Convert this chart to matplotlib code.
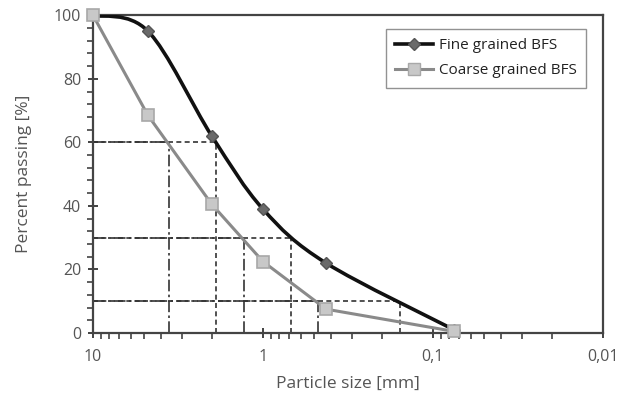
import numpy as np
import matplotlib
matplotlib.use("Agg")
import matplotlib.pyplot as plt
from matplotlib.path import Path
from matplotlib.patches import PathPatch
from matplotlib.lines import Line2D
from matplotlib.ticker import FixedLocator, NullFormatter, MultipleLocator

plt.rcParams['font.family'] = ['Open Sans', 'DejaVu Sans']

# sieve sizes [mm] and passing [%]
sizes = [10, 4.75, 2, 1, 0.425, 0.075]
fine_pass = [100, 95, 62, 39, 22, 1]
coarse_pass = [100, 68.5, 40.5, 22.5, 7.5, 0.5]

# characteristic diameters D60, D30, D10 [mm]
levels = [60, 30, 10]
fine_d = [1.9, 0.68, 0.157]
coarse_d = [3.57, 1.29, 0.472]

xticks = [10, 1, 0.1, 0.01]
xticklabels = ["10", "1", "0,1", "0,01"]

txt = "#555555"
dark = "#333333"


def smooth_path(xs, ys):
    # Catmull-Rom style bezier in (log x, y), back to data coords
    lx = np.log10(xs)
    p = np.column_stack([lx, ys])
    n = len(p)
    verts = [p[0]]
    codes = [Path.MOVETO]
    for i in range(n - 1):
        p0 = p[i - 1] if i > 0 else p[i]
        p1 = p[i]
        p2 = p[i + 1]
        p3 = p[i + 2] if i + 2 < n else p[i + 1]
        c1 = p1 + (p2 - p0) / 6.0
        c2 = p2 - (p3 - p1) / 6.0
        verts += [c1, c2, p2]
        codes += [Path.CURVE4] * 3
    verts = np.array(verts)
    verts[:, 0] = 10 ** verts[:, 0]
    return Path(verts, codes)


fig = plt.figure(figsize=(6.18, 3.97), dpi=100)
ax = fig.add_axes([0.1505, 0.1612, 0.825, 0.8003])
ax.set_xscale("log")
ax.set_xlim(10, 0.01)
ax.set_ylim(0, 100)

# guide lines for D60 / D30 / D10
for lv, d in zip(levels, coarse_d):
    ax.plot([10, d], [lv, lv], color=dark, lw=1.2, ls=(0, (7, 2, 1.5, 2)), zorder=2)
    ax.plot([d, d], [0, lv], color=dark, lw=1.2, ls=(0, (7, 2, 1.5, 2)), zorder=2)
for lv, d in zip(levels, fine_d):
    ax.plot([10, d], [lv, lv], color=dark, lw=1.2, ls=(0, (3, 2)), zorder=2)
    ax.plot([d, d], [0, lv], color=dark, lw=1.2, ls=(0, (3, 2)), zorder=2)

# fine grained: smoothed curve
ax.add_patch(PathPatch(smooth_path(sizes, fine_pass), facecolor="none",
                       edgecolor="#111111", lw=2.6, zorder=3, clip_on=True))
ax.plot(sizes, fine_pass, ls="none", marker="D", ms=6.5, mfc="#6a6a6a",
        mec="#555555", zorder=4)

# coarse grained: straight segments
ax.plot(sizes, coarse_pass, color="#8a8a8a", lw=2.2, marker="s", ms=9,
        mfc="#c8c8c8", mec="#a8a8a8", mew=1.2, zorder=5, clip_on=False)

# axes styling
for s in ax.spines.values():
    s.set_color("#444444")
    s.set_linewidth(1.6)
ax.set_xticks(xticks)
ax.set_xticklabels(xticklabels)
ax.xaxis.set_minor_locator(FixedLocator(
    [m * 10.0 ** e for e in (-2, -1, 0) for m in range(2, 10)]))
ax.xaxis.set_minor_formatter(NullFormatter())
ax.yaxis.set_major_locator(MultipleLocator(20))
ax.yaxis.set_minor_locator(MultipleLocator(4))
ax.tick_params(which="major", direction="inout", length=7, width=1.3,
               color=dark, labelcolor=txt, labelsize=11.5, pad=5)
ax.tick_params(which="minor", direction="out", length=4, width=1.1, color=dark)
ax.tick_params(axis="x", which="major", pad=8)
ax.tick_params(top=False, right=False, which="both")

ax.set_xlabel("Particle size [mm]", color=txt, fontsize=12.5, labelpad=8)
ax.set_ylabel("Percent passing [%]", color=txt, fontsize=12.5, labelpad=16)

handles = [
    Line2D([], [], color="#111111", lw=2.6, marker="D", ms=6, mfc="#6a6a6a", mec="#555555"),
    Line2D([], [], color="#8a8a8a", lw=2.2, marker="s", ms=8, mfc="#c8c8c8", mec="#a8a8a8"),
]
leg = ax.legend(handles, ["Fine grained BFS", "Coarse grained BFS"],
                loc="upper right", bbox_to_anchor=(0.967, 0.956), borderaxespad=0,
                fontsize=11, frameon=True, fancybox=False, handlelength=2.5,
                handletextpad=0.4, borderpad=0.6, labelspacing=0.65)
leg.get_frame().set_edgecolor("#777777")
leg.get_frame().set_linewidth(1.0)
for t in leg.get_texts():
    t.set_color("#222222")

fig.savefig("out.png", dpi=100)
